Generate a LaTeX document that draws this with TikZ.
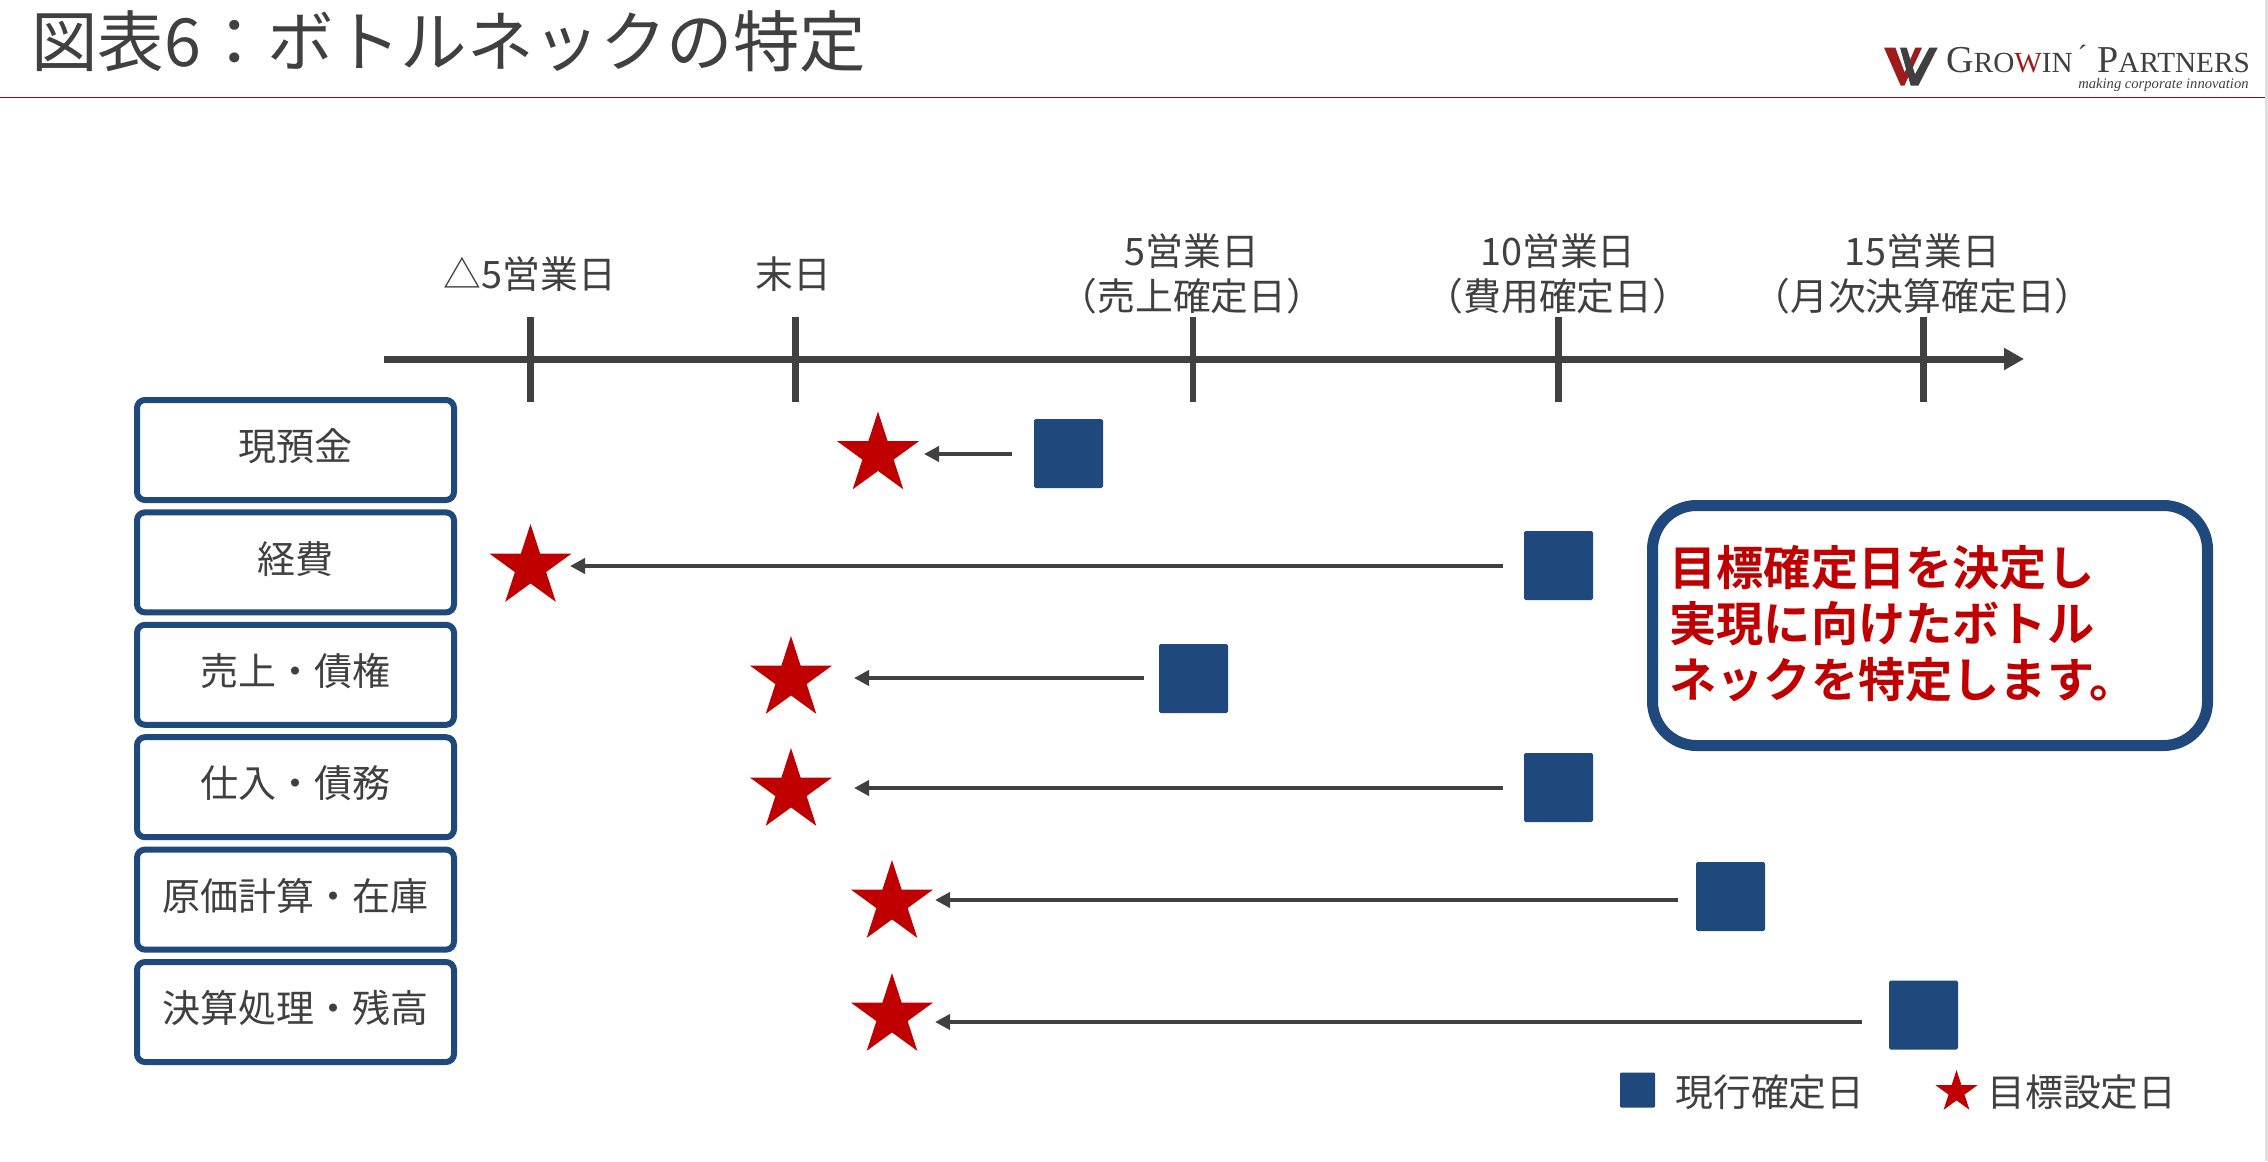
\documentclass[tikz,border=0pt]{standalone}
\usepackage{fontspec}
\setmainfont{Noto Sans CJK JP}[BoldFont=Noto Sans CJK JP Bold]
\newfontfamily\logofont{Liberation Serif}
\usetikzlibrary{arrows.meta,shapes.geometric}
\definecolor{ink}{HTML}{404040}
\definecolor{navy}{HTML}{1F497D}
\definecolor{crim}{HTML}{C00000}
\definecolor{rule}{HTML}{7A1212}
\definecolor{logored}{HTML}{A01C1C}
\tikzset{
  lab/.style={text=ink,font=\fontsize{18.9}{22.5}\selectfont,align=center,inner sep=0pt},
  rowbox/.style={draw=navy,line width=3pt,rounded corners=4pt,minimum width=158.5pt,minimum height=50pt,inner sep=0pt,text=ink,font=\fontsize{19}{23}\selectfont},
  cur/.style={fill=navy,rounded corners=0.8pt,minimum size=34.5pt,inner sep=0pt},
  goal/.style={star,star points=5,star point ratio=2.618,fill=crim,inner sep=0pt,minimum size=43pt},
  conn/.style={draw=ink,line width=2.35pt,-{Triangle[length=7.5pt,width=7.5pt]}},
  tickmark/.style={draw=ink,line width=3.2pt},
}
\newcommand{\up}[1]{\raisebox{5.2pt}{#1}}
\begin{document}
\begin{tikzpicture}[x=0.5pt,y=-0.5pt]
\useasboundingbox (0,0) rectangle (2268,1161);
\fill[white] (0,0) rectangle (2268,1161);
\fill[black!12] (2265,0) rectangle (2268,1161);
% title
\node[anchor=west,inner sep=0pt,text=ink,font=\fontsize{33.25}{38}\selectfont] (title) at (31,41) {図表6：ボトルネックの特定};
\coordinate (ruleL) at (0,97.5);
\coordinate (ruleR) at (2265,97.5);
\draw[rule,line width=0.8pt] (ruleL) -- (ruleR);
% logo
\begin{scope}[shift={(1870,35)},x=0.16667pt,y=-0.16667pt]
\fill[logored] (42,38) -- (76,38) -- (104,112) -- (136,38) -- (156,38) -- (103,152) -- (92,152) -- cycle;
\fill[ink] (90,38) -- (110,38) -- (135,118) -- (178,38) -- (203,38) -- (145,152) -- (122,152) -- cycle;
\end{scope}
\node[anchor=base west,inner sep=0pt,text=ink,text depth=0pt] (logoname) at (1946,73)
  {\logofont\fontsize{19}{20}\selectfont G\fontsize{14.6}{20}\selectfont RO\textcolor{logored}{W}IN\hspace{2.4pt}\raisebox{3.5pt}{´}\hspace{5pt}\fontsize{19}{20}\selectfont P\fontsize{14.6}{20}\selectfont ARTNERS};
\node[anchor=base east,inner sep=0pt,text=ink,text height=4.5pt] (logotag) at (2249,88.5)
  {\logofont\itshape\fontsize{7.3}{9}\selectfont making corporate innovation};
% timeline
\coordinate (axisL) at (384,359);
\coordinate (axisR) at (2024,359);
\draw[draw=ink,line width=3.5pt,-{Triangle[length=10pt,width=10.5pt]}] (axisL) -- (axisR);
\foreach \n/\x in {a/530.5,b/795.5,c/1193,d/1558.5,e/1923.5}{
  \coordinate (\n T) at (\x,316.5);
  \coordinate (\n B) at (\x,402);
  \draw[tickmark] (\n T) -- (\n B);
}
\node[lab] (la) at (530,274) {△5営業日};
\node[lab] (lb) at (793,274) {末日};
\node[lab] (lc) at (1192,274) {5営業日\\（売上確定日）};
\node[lab] (ld) at (1558,274) {10営業日\\（費用確定日）};
\node[lab] (le) at (1922.5,274) {15営業日\\（月次決算確定日）};
% row boxes
\node[rowbox] (r1) at (295.5,450) {\up{現預金}};
\node[rowbox] (r2) at (295.5,562.4) {\up{経費}};
\node[rowbox] (r3) at (295.5,674.8) {\up{売上・債権}};
\node[rowbox] (r4) at (295.5,787.2) {\up{仕入・債務}};
\node[rowbox] (r5) at (295.5,899.6) {\up{原価計算・在庫}};
\node[rowbox] (r6) at (295.5,1012) {\up{決算処理・残高}};
% current dates
\node[cur] (s1) at (1068.5,453.5) {};
\node[cur] (s2) at (1558.5,565.5) {};
\node[cur] (s3) at (1193.5,678.5) {};
\node[cur] (s4) at (1558.5,787.5) {};
\node[cur] (s5) at (1730.5,896.5) {};
\node[cur] (s6) at (1923.5,1015) {};
% target dates
\node[goal] (g1) at (878,454.5) {};
\node[goal] (g2) at (530.5,567) {};
\node[goal] (g3) at (791,679) {};
\node[goal] (g4) at (791,791) {};
\node[goal] (g5) at (892,903) {};
\node[goal] (g6) at (892,1016) {};
% arrows
\draw[conn,shorten <=11pt,shorten >=23pt] ([yshift=-0.25pt]s1.west) -- ([yshift=0.25pt]g1.center);
\draw[conn,shorten <=10.5pt,shorten >=19.75pt] ([yshift=-0.25pt]s2.west) -- ([yshift=0.5pt]g2.center);
\draw[conn,shorten <=7.5pt,shorten >=31.5pt] ([yshift=0.25pt]s3.west) -- ([yshift=0.5pt]g3.center);
\draw[conn,shorten <=10.5pt,shorten >=31.5pt] ([yshift=-0.25pt]s4.west) -- ([yshift=1.5pt]g4.center);
\draw[conn,shorten <=9pt,shorten >=21.5pt] ([yshift=-1.75pt]s5.west) -- ([yshift=1.5pt]g5.center);
\draw[conn,shorten <=13.5pt,shorten >=21.5pt] ([yshift=-3.5pt]s6.west) -- ([yshift=-3pt]g6.center);
% callout
\node[draw=navy,line width=5.5pt,rounded corners=22pt,fill=white,text=crim,
      minimum height=120pt,inner xsep=8.5pt,inner ysep=0pt,text width=260.5pt,align=left,
      font=\fontsize{23.6}{28}\selectfont\bfseries] (call) at (1930,625.5)
  {\raisebox{1.5pt}[\height][\depth]{目標確定日を決定し}\\\raisebox{1.5pt}{実現に向けたボトル}\\\raisebox{1.5pt}{ネックを特定します。}};
% legend
\node[fill=navy,rounded corners=0.6pt,minimum size=17.5pt,inner sep=0pt] (ks) at (1637.5,1090) {};
\node[lab,anchor=west] (kst) at (1675,1092) {現行確定日};
\node[star,star points=5,star point ratio=2.618,fill=crim,inner sep=0pt,minimum size=22pt] (kg) at (1956.5,1092) {};
\node[lab,anchor=west] (kgt) at (1987,1092) {目標設定日};
\end{tikzpicture}
\end{document}
